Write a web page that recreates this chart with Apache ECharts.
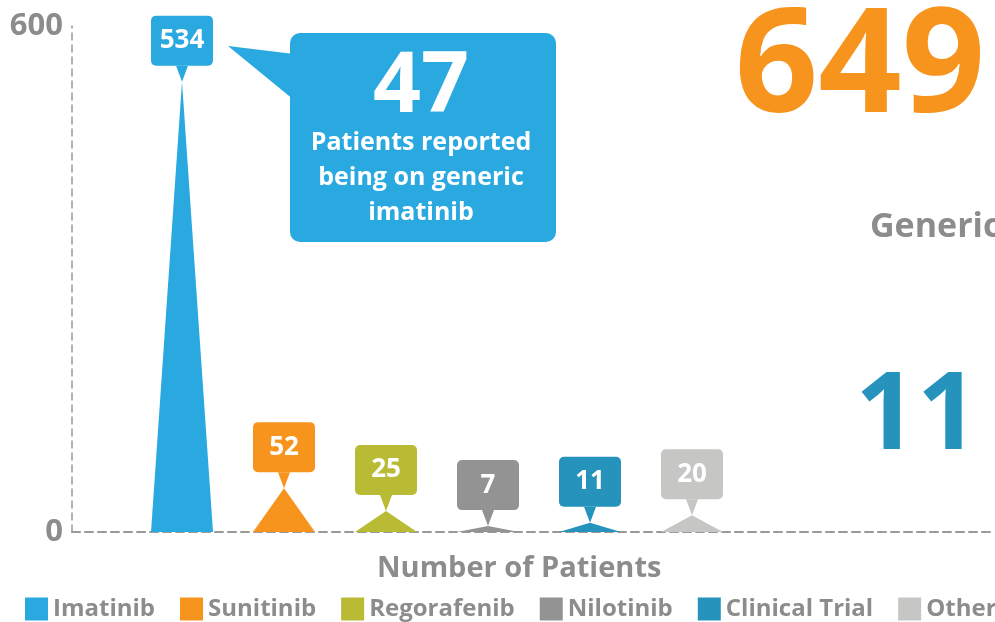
<!DOCTYPE html>
<html>
<head>
<meta charset="utf-8">
<script src="https://cdn.jsdelivr.net/npm/echarts@6/dist/echarts.min.js"></script>
<style>
  html, body { margin: 0; padding: 0; background: #fff; }
  #main { width: 995px; height: 622px; }
</style>
</head>
<body>
<div id="main"></div>
<script>
'use strict';
var categories = ['Imatinib', 'Sunitinib', 'Regorafenib', 'Nilotinib', 'Clinical Trial', 'Other'];
var patients = [534, 52, 25, 7, 11, 20];
var colors = ['#29a9e0', '#f7941d', '#b9bb35', '#939393', '#2593bc', '#c6c7c4'];
var yTicks = [0, 600];

var FONT = '"Open Sans", "Noto Sans", sans-serif';
var GRAY = '#8c8c8c';

var chart = echarts.init(document.getElementById('main'));

// one pictorialBar per drug so the legend lists each one
var series = categories.map(function (name, i) {
	return {
		name: name,
		type: 'pictorialBar',
		xAxisIndex: 1,
		yAxisIndex: 1,
		symbol: 'triangle',
		symbolSize: [62, '100%'],
		barGap: '-100%',
		itemStyle: { color: colors[i] },
		data: patients.map(function (v, j) { return j === i ? v : '-'; })
	};
});

// callout boxes with the little pointer
series.push({
	name: 'callout',
	type: 'scatter',
	xAxisIndex: 1,
	yAxisIndex: 1,
	symbol: 'path://M0,0 L10,0 L5,14 Z',
	symbolSize: [12, 16],
	symbolOffset: [0, -8],
	z: 5,
	itemStyle: { opacity: 1 },
	label: {
		show: true,
		position: 'top',
		distance: 0,
		formatter: '{c}',
		color: '#fff',
		fontSize: 26,
		fontWeight: 'bold',
		fontFamily: FONT,
		borderRadius: 5,
		width: 62,
		height: 50,
		lineHeight: 50,
		padding: 0
	},
	data: patients.map(function (v, i) {
		return {
			value: v,
			itemStyle: { color: colors[i], opacity: 1 },
			label: { backgroundColor: colors[i] }
		};
	})
});

var option = {
	animation: false,
	title: {
		text: 'Number of Patients',
		left: 372,
		top: 549,
		textStyle: { color: GRAY, fontSize: 29, fontWeight: 'bold', fontFamily: FONT }
	},
	legend: {
		data: categories,
		left: 25,
		top: 597,
		width: 1400,
		padding: 0,
		icon: 'rect',
		itemWidth: 23,
		itemHeight: 23,
		itemGap: 25,
		textStyle: { color: GRAY, fontSize: 24, fontWeight: 'bold', fontFamily: FONT }
	},
	grid: [
		{ left: 72, right: 0, top: 26, bottom: 90 },
		{ left: 131, width: 612, top: 26, bottom: 90 }
	],
	xAxis: [
		{
			gridIndex: 0,
			type: 'value',
			min: 0,
			max: 1,
			axisLine: { show: true, lineStyle: { color: '#999', width: 2, type: [8, 5] } },
			axisTick: { show: false },
			axisLabel: { show: false },
			splitLine: { show: false }
		},
		{
			gridIndex: 1,
			type: 'category',
			data: categories,
			axisLine: { show: false },
			axisTick: { show: false },
			axisLabel: { show: false }
		}
	],
	yAxis: [
		{
			gridIndex: 0,
			type: 'value',
			min: yTicks[0],
			max: yTicks[1],
			interval: yTicks[1] - yTicks[0],
			axisLine: { show: true, lineStyle: { color: '#999', width: 1.5, type: [7, 5] } },
			axisTick: { show: false },
			axisLabel: { color: GRAY, fontSize: 31, fontWeight: 'bold', fontFamily: FONT, margin: 9 },
			splitLine: { show: false }
		},
		{
			gridIndex: 1,
			type: 'value',
			min: yTicks[0],
			max: yTicks[1],
			show: false,
			splitLine: { show: false }
		}
	],
	graphic: [
		{
			type: 'group',
			children: [
				{ type: 'polygon', shape: { points: [[228, 46], [294, 54], [294, 100]] }, style: { fill: '#29a9e0' } },
				{ type: 'rect', shape: { x: 290, y: 33, width: 266, height: 209, r: 10 }, style: { fill: '#29a9e0' } },
				{
					type: 'text', x: 421, y: 88,
					style: { text: '47', fill: '#fff', font: 'bold 84px ' + FONT, textAlign: 'center', textVerticalAlign: 'middle' }
				},
				{
					type: 'text', x: 421, y: 178,
					style: {
						text: 'Patients reported\nbeing on generic\nimatinib', fill: '#fff',
						font: 'bold 25px ' + FONT, lineHeight: 35, textAlign: 'center', textVerticalAlign: 'middle'
					}
				}
			]
		},
		{
			type: 'text', x: 860, y: 70,
			style: { text: '649', fill: '#f7941d', font: 'bold 146px ' + FONT, textAlign: 'center', textVerticalAlign: 'middle' }
		},
		{
			type: 'text', x: 870, y: 227,
			style: { text: 'Generic', fill: GRAY, font: 'bold 34px ' + FONT, textAlign: 'left', textVerticalAlign: 'middle' }
		},
		{
			type: 'text', x: 917, y: 418,
			style: { text: '11', fill: '#2593bc', font: 'bold 108px ' + FONT, textAlign: 'center', textVerticalAlign: 'middle' }
		}
	],
	series: series
};

chart.setOption(option);
</script>
</body>
</html>
